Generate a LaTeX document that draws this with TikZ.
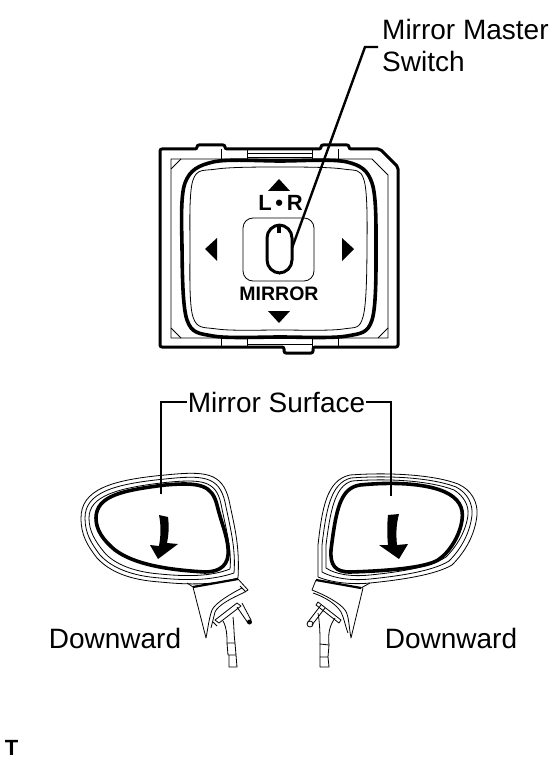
\documentclass[tikz,border=0pt]{standalone}
\usepackage{fontspec}
\setmainfont{Liberation Sans}
\usepackage{tikz}
\usetikzlibrary{arrows.meta, positioning, calc}

\tikzset{
  heavyline/.style={line width=3.6pt, line join=round},
  midline/.style={line width=2.2pt, line join=round},
  thinline/.style={line width=0.8pt, line join=round},
  leader/.style={line width=2.4pt},
  callout/.style={font=\fontsize{28}{32}\selectfont, inner sep=1pt, align=left},
  legend/.style={font=\bfseries\fontsize{19.5}{23}\selectfont, inner sep=0pt},
}

\begin{document}
\begin{tikzpicture}[x=1pt, y=-1pt]
  \useasboundingbox (0,0) rectangle (558,759);

  % Switch body
  \draw[heavyline, line width=3pt, rounded corners=2pt] (160,149) -- (197,149) -- (197,145) -- (225,145) -- (225,149) -- (321,149) -- (321,145) -- (349,145) -- (349,149) -- (380,149) -- (398,167) -- (398,347) -- (313,347) -- (313,353) -- (284,353) -- (284,347) -- (160,347) -- cycle;
  \draw[thinline] (171,159) -- (372,159) -- (388,175) -- (388,338) -- (171,338) -- cycle;
  \draw[thinline] (171,169) -- (181,159) (171,328) -- (181,338) (378,338) -- (388,328);
  \draw[thinline] (221,149) -- (221,162) (247,149) -- (247,161) (312,149) -- (312,161) (338,149) -- (338,162);
  \draw[thinline] (247,153) -- (312,153) (247,157) -- (312,157);
  \draw[thinline] (221,336) -- (221,347) (247,337) -- (247,347) (312,337) -- (312,347) (338,336) -- (338,347);
  \draw[thinline] (247,344) -- (312,344);

  % Switch face
  \draw[heavyline] plot[smooth cycle, tension=0.55] coordinates {(182,247) (185,183) (213,162) (280,161) (347,162) (372,183) (376,247) (372,320) (347,336) (280,337) (213,336) (187,320)};
  \draw[thinline] plot[smooth cycle, tension=0.55] coordinates {(190,247) (193,180) (217,169) (280,167) (343,169) (364,180) (367,247) (363,317) (343,329) (280,330) (217,329) (193,317)};
  \node[draw, thinline, rounded corners=10pt, minimum width=71pt, minimum height=63pt, inner sep=0pt] (pad) at (278.5,249.5) {};
  \node[draw, line width=3pt, rounded corners=13pt, minimum width=25pt, minimum height=48pt, inner sep=0pt] (knob) at (279.5,249) {};
  \fill (277,224) rectangle (281,233);

  % Direction marks
  \fill (268,191) -- (290,191) -- (279,179) -- cycle;
  \fill (268,311) -- (290,311) -- (279,323) -- cycle;
  \fill (205,249) -- (217,238) -- (217,261) -- cycle;
  \fill (354,249) -- (342,238) -- (342,261) -- cycle;
  \node[legend, font=\bfseries\fontsize{22}{24}\selectfont] (selector) at (280.5,203) {L\,•\,R};
  \node[legend] (mirrorword) at (279,294) {MIRROR};

  % Left mirror
  \draw[thinline] (81,518) .. controls (81,490) and (110,480) .. (165,475) .. controls (205,471) and (222,472) .. (229,500) .. controls (234,525) and (240,545) .. (238,578) .. controls (215,585) and (190,585) .. (160,582) .. controls (130,580) and (110,572) .. (97,558) .. controls (87,545) and (81,535) .. (81,518) -- cycle;
  \draw[thinline] (85,518) .. controls (85,493) and (113,484) .. (165,479) .. controls (203,475) and (219,476) .. (225,502) .. controls (230,527) and (236,548) .. (234,573) .. controls (213,580) and (190,581) .. (160,578) .. controls (132,576) and (112,568) .. (100,555) .. controls (91,543) and (85,533) .. (85,518) -- cycle;
  \draw[thinline] (89,518) .. controls (89,496) and (117,488) .. (165,482.5) .. controls (201,479) and (216,480) .. (221,504) .. controls (226,529) and (232,550) .. (230,569) .. controls (212,576) and (190,577) .. (160,574) .. controls (134,572) and (114,564) .. (104,552) .. controls (95,541) and (89,531) .. (89,518) -- cycle;
  \draw[heavyline] (96,518) .. controls (96,495) and (125,490) .. (165,485) .. controls (200,482) and (212,485) .. (217,505) .. controls (222,525) and (227,535) .. (228,548) .. controls (230,565) and (220,572) .. (205,572) .. controls (170,570) and (135,565) .. (115,550) .. controls (103,540) and (96,530) .. (96,518) -- cycle;
  \fill (159,515) .. controls (161,525) and (161,535) .. (159,546) -- (150,545) -- (158,559) -- (178,544) -- (167,543) .. controls (169,533) and (169,525) .. (168,517) -- cycle;

  % Left stay
  \draw[midline] (193,587) -- (238,579);
  \draw[thinline] (187,583) -- (193,587) -- (206,638) .. controls (208,628) and (209,618) .. (212,610) .. controls (215,603) and (232,593) .. (242,588);
  \draw[thinline] (238,579) -- (248,590) -- (243,593) .. controls (232,598) and (218,605) .. (215,612) -- (211,628);
  \draw[thinline] (240,586) -- (246,592) (213,622) -- (217,626);
  \draw[thinline] (215,620) -- (237,603) -- (241,606) -- (219,623) -- cycle;
  \draw[thinline] (223,621) .. controls (227,628) and (227,636) .. (227,643) (233,617) .. controls (234,626) and (234,636) .. (235,643);
  \draw[thinline] (227,643) -- (235,643) -- (236,655) -- (228,655) -- cycle;
  \draw[thinline] (229,655) -- (229,667) -- (237,667) -- (236,655);
  \draw[thinline] (237,607) -- (248,623) (242,603) -- (251,620);
  \fill (249.5,622) circle (2.5pt);

  % Right mirror
  \draw[thinline] (318,545) .. controls (322,510) and (326,480) .. (350,475) .. controls (390,472) and (435,475) .. (458,484) .. controls (472,490) and (478,503) .. (477,515) .. controls (475,535) and (465,552) .. (452,565) .. controls (435,575) and (400,580) .. (370,583) .. controls (350,585) and (330,582) .. (318,577) -- cycle;
  \draw[thinline] (322,545) .. controls (326,512) and (330,483) .. (351,478) .. controls (390,475) and (433,478) .. (456,487) .. controls (468,493) and (473,505) .. (472,515) .. controls (470,533) and (461,549) .. (449,561) .. controls (433,571) and (400,576) .. (370,579) .. controls (350,581) and (333,578) .. (322,572) -- cycle;
  \draw[thinline] (326,545) .. controls (330,514) and (334,486) .. (352,481) .. controls (390,478) and (431,481) .. (454,490) .. controls (464,496) and (469,506) .. (468,515) .. controls (466,531) and (457,546) .. (446,557) .. controls (431,567) and (400,572) .. (370,575) .. controls (350,577) and (335,574) .. (326,568) -- cycle;
  \draw[heavyline] (331,550) .. controls (336,510) and (340,488) .. (360,485) .. controls (400,481) and (430,485) .. (445,492) .. controls (458,498) and (464,507) .. (462,520) .. controls (460,535) and (450,552) .. (438,560) .. controls (425,568) and (385,571) .. (350,572) .. controls (335,572) and (330,565) .. (331,550) -- cycle;
  \fill (388,515) .. controls (387,525) and (387,535) .. (388,545) -- (379,545) -- (399,559) -- (408,544) -- (397,545) .. controls (396,535) and (396,525) .. (399,514) -- cycle;

  % Right stay
  \draw[midline] (316,580) -- (361,588);
  \draw[thinline] (361,588) -- (370,583) (363,588) -- (351,638) .. controls (349,628) and (349,615) .. (345,610) .. controls (340,603) and (325,595) .. (312,590) -- (316,580);
  \draw[thinline] (313,593) .. controls (325,597) and (336,604) .. (341,612) .. controls (344,618) and (345,625) .. (348,633);
  \draw[thinline] (318,602) -- (341,620) -- (339,623) -- (316,605) -- cycle;
  \draw[thinline] (318,613) .. controls (320,625) and (320,635) .. (320,644) (335,618) .. controls (329,626) and (328,635) .. (329,645);
  \draw[thinline] (320,644) -- (329,645) -- (328,657) -- (320,657) -- cycle;
  \draw[thinline] (320,657) -- (320,667) -- (329,667) -- (328,657);
  \draw[thinline] (321,605) -- (308,622) (325,608) -- (312,625);
  \draw[thinline] (310,624) circle (3pt);

  % Labels
  \node[callout, anchor=north west] (masterlabel) at (381,18) {Mirror Master\\Switch};
  \node[callout] (surfacelabel) at (276.5,402) {Mirror Surface};
  \node[callout] (downleft) at (115,638) {Downward};
  \node[callout] (downright) at (451,638) {Downward};
  \node[font=\bfseries\fontsize{22}{24}\selectfont, inner sep=1pt] (figmark) at (11.5,748) {T};

  % Leaders
  \coordinate (masterbend) at (365,47);
  \coordinate (masterend) at (378,47);
  \coordinate (knobend) at (292,248);
  \coordinate (leftbend) at (161,402);
  \coordinate (leftend) at (161,494);
  \coordinate (rightbend) at (391,402);
  \coordinate (rightend) at (391,496);
  \draw[leader] (masterend) -- (masterbend) -- (knobend);
  \draw[leader] (surfacelabel.west) -- (leftbend) -- (leftend);
  \draw[leader] (surfacelabel.east) -- (rightbend) -- (rightend);
\end{tikzpicture}
\end{document}
